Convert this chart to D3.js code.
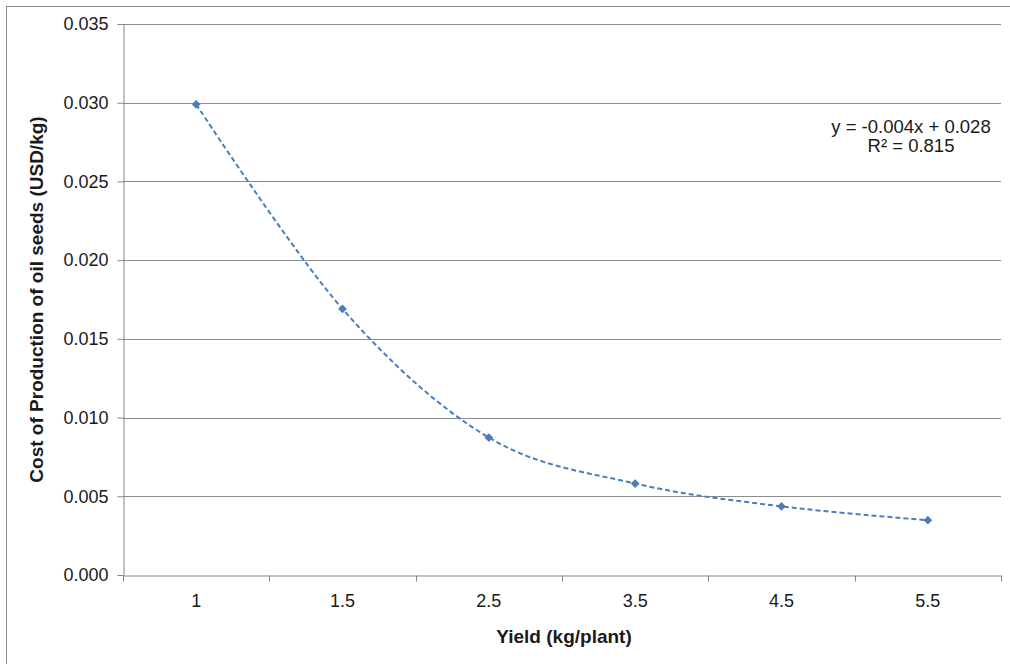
<!DOCTYPE html>
<html>
<head>
<meta charset="utf-8">
<script src="https://cdn.jsdelivr.net/npm/d3@7"></script>
<style>
  html, body { margin: 0; padding: 0; background: #fff; }
  svg { display: block; font-family: "Liberation Sans", Arial, sans-serif; }
</style>
</head>
<body>
<svg id="chart" width="1010" height="664"></svg>
<script>
// Yield categories and production cost per kg of oil seeds
const yieldLabels = ["1", "1.5", "2.5", "3.5", "4.5", "5.5"];
const costValues = [0.0299, 0.0169, 0.00873, 0.00581, 0.00436, 0.00348];
const yTicks = [0, 0.005, 0.010, 0.015, 0.020, 0.025, 0.030, 0.035];
const trendLines = ["y = -0.004x + 0.028", "R² = 0.815"];

const svg = d3.select("#chart");
const plot = { left: 123, right: 1001, top: 24, bottom: 575 };
const textColor = "#1a1a1a";

// outer chart border
svg.append("rect")
  .attr("x", 6.5).attr("y", 6.5)
  .attr("width", 1020).attr("height", 680)
  .attr("fill", "none").attr("stroke", "#8a8a8a").attr("stroke-width", 1);

const x = d3.scaleBand().domain(yieldLabels).range([plot.left, plot.right]).padding(0);
const y = d3.scaleLinear().domain([0, 0.035]).range([plot.bottom, plot.top]);

// horizontal gridlines
svg.append("g").selectAll("line").data(yTicks.filter(d => d > 0)).join("line")
  .attr("x1", plot.left).attr("x2", plot.right)
  .attr("y1", d => Math.round(y(d)) + 0.5).attr("y2", d => Math.round(y(d)) + 0.5)
  .attr("stroke", "#8c8c8c").attr("stroke-width", 1);

// y axis
const yAxis = svg.append("g")
  .attr("transform", `translate(${plot.left + 0.5},0)`)
  .call(d3.axisLeft(y).tickValues(yTicks).tickFormat(d3.format(".3f")).tickSize(6).tickPadding(9));
yAxis.select(".domain").attr("stroke", "#868686");
yAxis.selectAll(".tick line").attr("stroke", "#868686");
yAxis.selectAll(".tick text").attr("font-size", 18).attr("fill", textColor)
  .attr("font-family", "Liberation Sans, Arial, sans-serif");

// x axis: labels at band centres, tick marks at band boundaries
const xAxis = svg.append("g")
  .attr("transform", `translate(0,${Math.round(plot.bottom) + 0.5})`)
  .call(d3.axisBottom(x).tickSize(0).tickPadding(19));
xAxis.select(".domain").attr("stroke", "#868686");
xAxis.selectAll(".tick text").attr("font-size", 18).attr("fill", textColor)
  .attr("font-family", "Liberation Sans, Arial, sans-serif");
const bounds = yieldLabels.map(d => x(d)).concat([x(yieldLabels[yieldLabels.length - 1]) + x.bandwidth()]);
xAxis.append("g").selectAll("line").data(bounds).join("line")
  .attr("x1", d => Math.round(d) + 0.5).attr("x2", d => Math.round(d) + 0.5)
  .attr("y1", 0).attr("y2", 6)
  .attr("stroke", "#868686");

// smoothed dashed series line
const pts = yieldLabels.map((k, i) => [x(k) + x.bandwidth() / 2, y(costValues[i])]);
svg.append("path")
  .attr("d", d3.line().curve(d3.curveCardinal.tension(0))(pts))
  .attr("fill", "none")
  .attr("stroke", "#4a7ebb")
  .attr("stroke-width", 2)
  .attr("stroke-dasharray", "5,3");

// diamond markers
svg.append("g").selectAll("path").data(pts).join("path")
  .attr("transform", d => `translate(${d[0]},${d[1]}) rotate(45)`)
  .attr("d", d3.symbol().type(d3.symbolSquare).size(38))
  .attr("fill", "#4a7ebb");

// trendline equation
svg.append("g").selectAll("text").data(trendLines).join("text")
  .attr("x", 911).attr("y", (d, i) => 133 + i * 19)
  .attr("text-anchor", "middle")
  .attr("font-size", 18.5).attr("fill", textColor)
  .text(d => d);

// axis titles
svg.append("text")
  .attr("x", (plot.left + plot.right) / 2 + 2).attr("y", 643)
  .attr("text-anchor", "middle")
  .attr("font-size", 19).attr("font-weight", "bold").attr("fill", textColor)
  .text("Yield (kg/plant)");

svg.append("text")
  .attr("transform", `translate(43,${(plot.top + plot.bottom) / 2}) rotate(-90)`)
  .attr("text-anchor", "middle")
  .attr("font-size", 19).attr("font-weight", "bold").attr("fill", textColor)
  .text("Cost of Production of oil seeds (USD/kg)");
</script>
</body>
</html>
